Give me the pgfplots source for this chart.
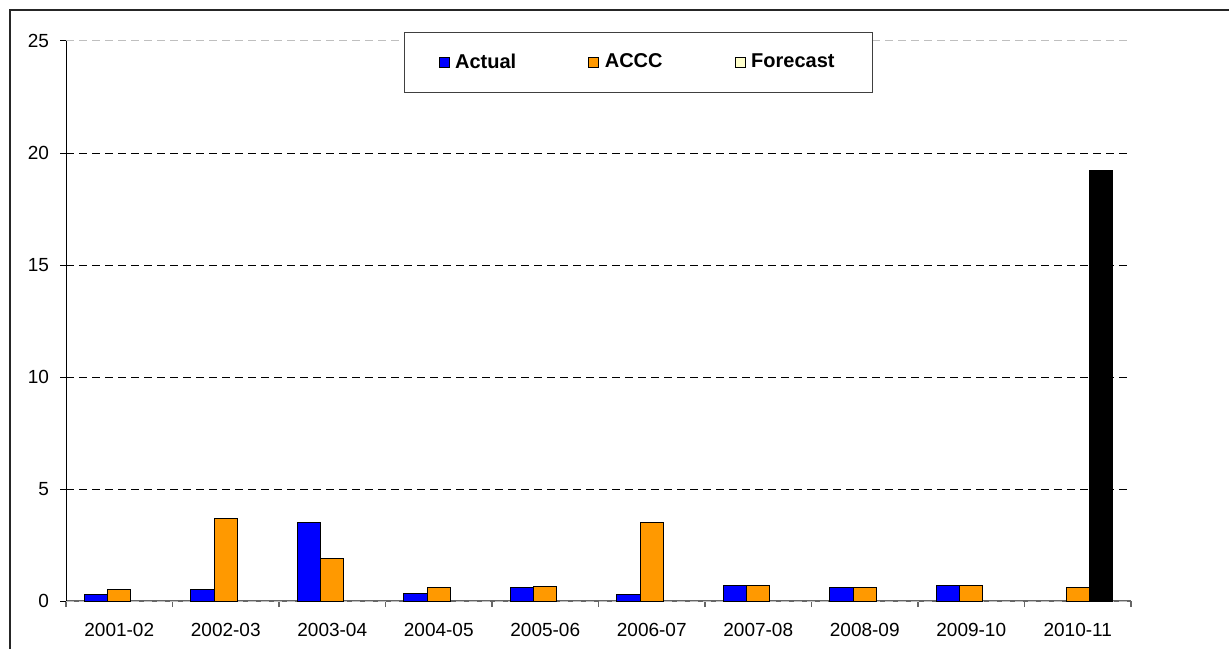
\documentclass[border=0pt]{standalone}
\usepackage{pgfplots}
\pgfplotsset{compat=1.18}
\usepackage{fontspec}
\setmainfont{Liberation Sans}
\definecolor{actual}{HTML}{0000FF}
\definecolor{accc}{HTML}{FF9900}
\definecolor{fcst}{HTML}{FFFFCC}
\begin{document}
\begin{tikzpicture}
\useasboundingbox (0,0) rectangle (614.5pt,324.5pt);
\draw[line width=1pt, black!85] (5pt,0pt) -- (5pt,319.5pt) -- (614.5pt,319.5pt);
\begin{axis}[
  at={(33pt,24pt)}, anchor=south west,
  width=532.5pt, height=280pt, scale only axis,
  xmin=-0.5, xmax=9.5, ymin=0, ymax=25,
  axis x line*=bottom, axis y line*=left,
  axis line style={-},
  x axis line style={black!60, line width=0.6pt},
  y axis line style={black, line width=0.5pt},
  tick align=outside,
  /pgf/number format/assume math mode=true,
  xtick={0,...,9},
  xticklabels={2001-02,2002-03,2003-04,2004-05,2005-06,2006-07,2007-08,2008-09,2009-10,2010-11},
  major x tick style={draw=none},
  minor xtick={-0.5,0.5,...,9.5},
  minor x tick style={black!60, line width=0.6pt},
  minor tick length=3pt,
  major tick length=3pt,
  ytick={5,10,15,20},
  extra y ticks={0,25},
  extra y tick style={grid style={black!25, dash pattern=on 4pt off 2.5pt, line width=0.5pt}},
  y tick style={black, line width=0.5pt},
  ymajorgrids,
  grid style={black, dash pattern=on 4pt off 2.5pt, line width=0.5pt},
  tick label style={font=\fontsize{9.5}{11}\selectfont},
  xticklabel style={yshift=-4.5pt},
  yticklabel style={xshift=-2pt},
  legend columns=3,
  legend cell align=left,
  legend style={at={(0.3174,1.016)}, anchor=north west, draw=black!75, line width=0.5pt,
    inner xsep=17pt, inner ysep=8.5pt,
    font=\bfseries\fontsize{10}{12}\selectfont,
    /tikz/every even column/.append style={column sep=34pt},
    /tikz/every odd column/.append style={column sep=0.8pt}},
  legend image code/.code={\draw[#1, draw=black, line width=0.5pt] (0pt,-2.5pt) rectangle (5pt,2.5pt);},
]
\addplot[ybar, bar width=0.22, bar shift=-0.22, fill=actual, draw=black, line width=0.5pt]
  coordinates {(0,0.3)(1,0.5)(2,3.5)(3,0.35)(4,0.6)(5,0.3)(6,0.7)(7,0.6)(8,0.7)};
\addlegendentry{Actual}
\addplot[ybar, bar width=0.22, bar shift=0, fill=accc, draw=black, line width=0.5pt]
  coordinates {(0,0.5)(1,3.7)(2,1.9)(3,0.6)(4,0.65)(5,3.5)(6,0.7)(7,0.6)(8,0.7)(9,0.6)};
\addlegendentry{ACCC}
\addplot[ybar, bar width=0.22, bar shift=0.22, fill=black, draw=black, line width=0.5pt, forget plot]
  coordinates {(9,19.2)};
\addlegendimage{fill=fcst}
\addlegendentry{Forecast}
\end{axis}
\end{tikzpicture}
\end{document}
